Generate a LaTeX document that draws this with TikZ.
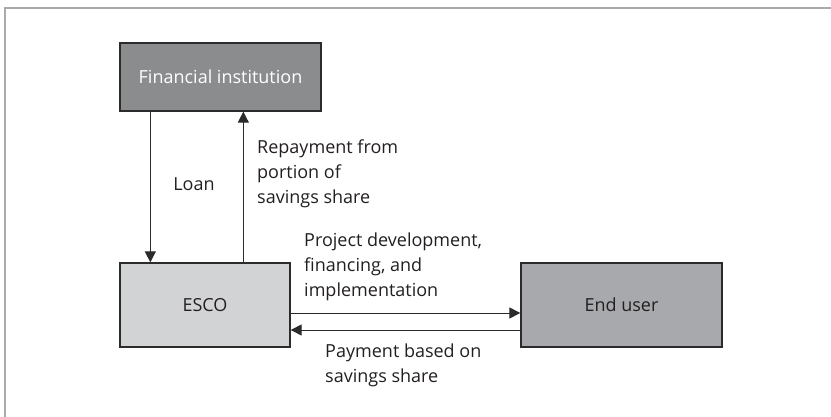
\documentclass[tikz,border=0pt]{standalone}
\usepackage{fontspec}
\setmainfont{Open Sans}
\usetikzlibrary{arrows.meta}
\definecolor{fidark}{HTML}{8B8C8E}
\definecolor{escolight}{HTML}{D2D3D5}
\definecolor{eumid}{HTML}{A8A9AC}
\definecolor{edge}{HTML}{2B2B2B}
\definecolor{framegray}{HTML}{AAAAAA}
\definecolor{txt}{HTML}{231F20}
\tikzset{
  box/.style={draw=edge, line width=1.3pt, rectangle, inner sep=0pt, font=\fontsize{18}{25}\selectfont, text=txt},
  arr/.style={draw=edge, line width=1pt, -{Triangle[length=11pt,width=11pt]}},
  lbl/.style={inner sep=0pt, align=left, font=\fontsize{18}{25}\selectfont, text=txt},
}
\begin{document}
\begin{tikzpicture}[x=1pt,y=-1pt]
\useasboundingbox (0,0) rectangle (831,417);
\draw[framegray, line width=1.5pt] (5,417) -- (5,8) -- (831,8);
\node[box, fill=fidark, text=white, minimum width=201pt, minimum height=68pt] (fi) at (220.5,77) {Financial institution};
\node[box, fill=escolight, minimum width=170pt, minimum height=84pt] (esco) at (205,305) {ESCO};
\node[box, fill=eumid, minimum width=201pt, minimum height=84pt] (eu) at (621.5,305) {End user};
\draw[arr] ([xshift=31pt]fi.south west) -- ([xshift=31pt]esco.north west);
\draw[arr] ([xshift=124pt]esco.north west) -- ([xshift=124pt]fi.south west);
\draw[arr] ([yshift=-8pt]esco.east) -- ([yshift=-8pt]eu.west);
\draw[arr] ([yshift=-25pt]eu.west) -- ([yshift=-25pt]esco.east);
\node[lbl] (loan) at (194,184) {Loan};
\node[lbl, anchor=west] (rep) at (257,174) {Repayment from\\portion of\\savings share};
\node[lbl, anchor=west] (proj) at (304,267) {Project development,\\financing, and\\implementation};
\node[lbl, anchor=west] (pay) at (325,365.5) {Payment based on\\savings share};
\end{tikzpicture}
\end{document}
